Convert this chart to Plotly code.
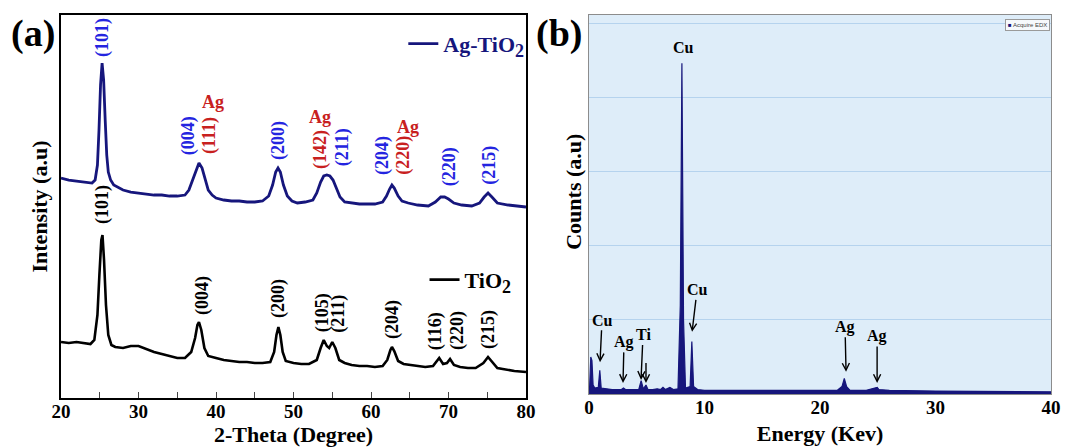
import plotly.graph_objects as go

# ---------------- Panel (a): XRD patterns (2-theta, intensity a.u.) ----------------
ag_tio2_pattern = [
    (20.0, 220), (21.0, 218), (22.0, 217), (23.0, 216), (23.5, 215), (24.0, 215), (24.4, 218),
    (24.7, 233), (24.9, 268), (25.1, 313), (25.3, 335), (25.5, 318), (25.7, 278), (25.9, 243),
    (26.1, 226), (26.4, 218), (26.8, 213), (27.5, 210), (28.0, 208), (29.0, 206), (30.0, 205),
    (31.0, 204), (32.0, 203), (33.0, 203), (34.0, 202), (35.0, 202), (36.0, 203), (36.5, 208),
    (37.0, 218), (37.4, 228), (37.8, 235), (38.2, 230), (38.6, 218), (39.0, 208), (39.5, 203),
    (40.0, 200), (41.0, 198), (42.0, 197), (43.0, 197), (44.0, 196), (45.0, 196), (46.0, 197),
    (46.8, 202), (47.3, 213), (47.7, 226), (48.0, 230), (48.3, 226), (48.7, 213), (49.2, 202),
    (49.8, 197), (50.5, 195), (51.5, 196), (52.5, 198), (53.0, 205), (53.5, 216), (53.9, 222),
    (54.3, 223), (54.7, 222), (55.1, 218), (55.5, 210), (56.0, 201), (56.6, 196), (57.5, 195),
    (58.5, 194), (59.5, 194), (60.5, 194), (61.5, 196), (62.0, 202), (62.4, 209), (62.7, 213),
    (63.0, 210), (63.5, 202), (64.0, 197), (64.8, 195), (66.0, 193), (67.4, 192), (68.3, 196),
    (69.0, 201), (69.5, 201), (70.0, 199), (70.7, 195), (71.7, 193), (73.0, 192), (74.0, 195),
    (74.6, 201), (75.1, 205), (75.6, 201), (76.3, 195), (77.7, 193), (79.0, 192), (80.0, 191),
]

tio2_pattern = [
    (20.0, 56), (21.0, 55), (22.0, 56), (23.0, 55), (23.8, 54), (24.3, 58), (24.7, 83),
    (24.95, 123), (25.2, 158), (25.35, 163), (25.55, 138), (25.8, 93), (26.1, 63), (26.5, 53),
    (27.0, 51), (28.0, 50), (29.0, 52), (30.0, 52), (31.0, 49), (32.0, 46), (33.0, 44),
    (34.0, 42), (35.0, 40), (36.0, 40), (36.8, 46), (37.3, 60), (37.6, 73), (37.8, 76),
    (38.1, 68), (38.5, 50), (39.0, 42), (40.0, 40), (41.0, 38), (42.0, 37), (43.0, 36),
    (44.0, 36), (45.0, 35), (46.0, 35), (47.0, 36), (47.5, 46), (47.8, 63), (48.05, 71),
    (48.3, 63), (48.6, 46), (49.0, 37), (50.0, 35), (51.0, 34), (52.0, 34), (53.0, 38),
    (53.5, 50), (53.9, 58), (54.3, 52), (54.6, 50), (55.0, 56), (55.4, 50), (55.9, 38),
    (56.6, 35), (57.5, 33), (58.5, 32), (59.5, 32), (60.5, 31), (61.5, 32), (62.1, 38),
    (62.5, 48), (62.7, 51), (63.0, 47), (63.5, 37), (64.2, 34), (65.0, 33), (66.0, 32),
    (67.0, 31), (68.0, 32), (68.8, 40), (69.3, 34), (69.8, 35), (70.2, 39), (70.7, 33),
    (71.5, 31), (72.5, 30), (73.5, 30), (74.5, 35), (75.1, 41), (75.6, 36), (76.3, 30),
    (77.0, 29), (77.7, 28), (78.5, 27), (80.0, 26),
]

# peak labels: (2-theta, intensity, text, colour key)
ag_tio2_labels = [
    (25.3, 360, "(101)", "blue"), (36.4, 262, "(004)", "blue"), (39.1, 262, "(111)", "red"),
    (48.0, 257, "(200)", "blue"), (53.4, 249, "(142)", "red"), (56.3, 251, "(211)", "blue"),
    (61.4, 243, "(204)", "blue"), (64.1, 243, "(220)", "red"), (70.1, 231, "(220)", "blue"),
    (75.2, 233, "(215)", "blue"),
]
ag_phase_labels = [(39.6, 296, "Ag"), (53.4, 281, "Ag"), (64.8, 271, "Ag")]
tio2_labels = [
    (25.3, 193, "(101)"), (38.2, 102, "(004)"), (48.0, 99, "(200)"), (53.7, 85, "(105)"),
    (55.7, 84, "(211)"), (62.7, 79, "(204)"), (68.3, 67, "(116)"), (71.1, 67, "(220)"),
    (75.1, 68, "(215)"),
]

# ---------------- Panel (b): EDX spectrum (keV, counts a.u.) ----------------
edx_energy = [0.0, 0.05, 0.15, 0.25, 0.35, 0.5, 0.8, 0.93, 1.05, 1.5, 2.0, 2.8, 2.98, 3.15,
              3.7, 4.3, 4.51, 4.7, 4.93, 5.1, 5.5, 5.9, 6.2, 6.4, 6.6, 7.0, 7.3, 7.7, 7.9,
              8.04, 8.18, 8.35, 8.75, 8.9, 9.05, 9.4, 10, 12, 14, 16, 18, 20, 21.5, 21.9,
              22.1, 22.3, 22.6, 24.0, 24.8, 24.95, 25.1, 26, 30, 35, 40]
edx_counts = [0.0, 0.1, 0.5, 0.45, 0.12, 0.08, 0.09, 0.32, 0.08, 0.07, 0.06, 0.06, 0.08, 0.06,
              0.06, 0.06, 0.18, 0.07, 0.12, 0.06, 0.06, 0.07, 0.06, 0.09, 0.06, 0.09, 0.06, 0.07,
              1.2, 4.47, 1.0, 0.08, 0.1, 0.71, 0.1, 0.06, 0.05, 0.05, 0.05, 0.05, 0.05, 0.05,
              0.05, 0.1, 0.21, 0.1, 0.05, 0.05, 0.08, 0.09, 0.06, 0.05, 0.04, 0.04, 0.03]

# element markers: (arrow head keV, arrow head counts, text, text dx px, text dy px)
edx_markers = [
    (0.95, 0.43, "Cu", 2, -42), (2.94, 0.15, "Ag", 1, -41), (4.50, 0.19, "Ti", 2, -45),
    (4.93, 0.15, " ", 0, -30), (8.92, 0.84, "Cu", 5, -42), (22.25, 0.30, "Ag", -1, -45),
    (24.94, 0.15, "Ag", 0, -47),
]
edx_top_label = (8.2, 4.68, "Cu")

FONT = "Liberation Serif"
NAVY = "#16167c"
BLUE = "#2424e0"
RED = "#c8201e"
LABEL_COLORS = {"blue": BLUE, "red": RED}
SUB2 = "<sub><span style='font-size:18px'>2</span></sub>"

fig = go.Figure()

fig.add_trace(go.Scatter(
    x=[p[0] for p in ag_tio2_pattern], y=[p[1] for p in ag_tio2_pattern],
    mode="lines", line=dict(color=NAVY, width=2.8), name="Ag-TiO" + SUB2,
    xaxis="x", yaxis="y", legend="legend"))
fig.add_trace(go.Scatter(
    x=[p[0] for p in tio2_pattern], y=[p[1] for p in tio2_pattern],
    mode="lines", line=dict(color="black", width=2.6), name="TiO" + SUB2,
    xaxis="x", yaxis="y", legend="legend2"))
fig.add_trace(go.Scatter(
    x=edx_energy, y=edx_counts, mode="lines", fill="tozeroy", fillcolor=NAVY,
    line=dict(color=NAVY, width=1.2), name="Acquire EDX", showlegend=False,
    xaxis="x2", yaxis="y2"))

ann = []
for x, y, t, c in ag_tio2_labels:
    ann.append(dict(x=x, y=y, xref="x", yref="y", text=t, showarrow=False, textangle=-90,
                    font=dict(family=FONT, size=18, color=LABEL_COLORS[c], weight="bold")))
for x, y, t in ag_phase_labels:
    ann.append(dict(x=x, y=y, xref="x", yref="y", text=t, showarrow=False,
                    font=dict(family=FONT, size=18, color=RED, weight="bold")))
for x, y, t in tio2_labels:
    ann.append(dict(x=x, y=y, xref="x", yref="y", text=t, showarrow=False, textangle=-90,
                    font=dict(family=FONT, size=18, color="black", weight="bold")))
for x, y, t, dx, dy in edx_markers:
    ann.append(dict(x=x, y=y, xref="x2", yref="y2", text=t, showarrow=True, ax=dx, ay=dy,
                    arrowhead=5, arrowsize=1.0, arrowwidth=1.4, arrowcolor="black", standoff=0,
                    font=dict(family=FONT, size=16, color="black", weight="bold")))
ann.append(dict(x=edx_top_label[0], y=edx_top_label[1], xref="x2", yref="y2",
                text=edx_top_label[2], showarrow=False,
                font=dict(family=FONT, size=16, color="black", weight="bold")))
ann.append(dict(x=0.031, y=0.924, xref="paper", yref="paper", xanchor="center",
                yanchor="middle", text="(a)", showarrow=False,
                font=dict(family=FONT, size=38, color="black", weight="bold")))
ann.append(dict(x=0.525, y=0.924, xref="paper", yref="paper", xanchor="center",
                yanchor="middle", text="(b)", showarrow=False,
                font=dict(family=FONT, size=38, color="black", weight="bold")))
# y title of the EDX panel (sits a little above the axis centre in the reference)
ann.append(dict(x=0.539, y=0.571, xref="paper", yref="paper", xanchor="center",
                yanchor="middle", text="Counts (a.u)", showarrow=False, textangle=-90,
                font=dict(family=FONT, size=22, color="black", weight="bold")))
# small instrument legend box of the EDX panel
ann.append(dict(x=0.986, y=0.958, xref="paper", yref="paper", xanchor="right", yanchor="top",
                text="<span style='color:%s'>■</span> Acquire EDX" % NAVY, showarrow=False,
                bgcolor="#f6f9fc", bordercolor="#9a9a9a", borderwidth=1, borderpad=2,
                font=dict(family="Liberation Sans", size=6, color="#444")))

shapes = [dict(type="rect", xref="x2 domain", yref="y2 domain", x0=0, x1=1, y0=0, y1=1,
               fillcolor="#deedf9", line=dict(width=0), layer="below")]

tickfont = dict(family=FONT, size=19, color="black", weight="bold")
titlefont = dict(family=FONT, size=22, color="black", weight="bold")

fig.update_layout(
    width=1065, height=447, margin=dict(l=0, r=0, t=0, b=0, autoexpand=False),
    paper_bgcolor="white", plot_bgcolor="rgba(0,0,0,0)",
    font=dict(family=FONT, color="black"),
    annotations=ann, shapes=shapes,
    xaxis=dict(domain=[0.0573, 0.4939], range=[20, 80], dtick=10, ticks="inside", ticklen=6,
               tickwidth=1.3, minor=dict(ticks="inside", ticklen=6, dtick=5, tickwidth=1.3),
               showline=True, mirror=True, linecolor="black", linewidth=1.5, showgrid=False,
               zeroline=False, tickfont=tickfont, automargin=False, ticklabelstandoff=-5,
               title=dict(text="2-Theta (Degree)", font=titlefont, standoff=9), anchor="y"),
    yaxis=dict(domain=[0.1096, 0.9664], range=[0, 383], showticklabels=False, ticks="",
               showline=True, mirror=True, linecolor="black", linewidth=1.5, showgrid=False,
               zeroline=False, automargin=False,
               title=dict(text="Intensity (a.u)", font=titlefont, standoff=6), anchor="x"),
    xaxis2=dict(domain=[0.5531, 0.9869], range=[0, 40], dtick=10, ticks="", showline=True,
                mirror=True, linecolor="#8c8c8c", linewidth=1.3, showgrid=False, zeroline=False,
                tickfont=tickfont, anchor="y2", automargin=False, ticklabelstandoff=-4,
                title=dict(text="Energy (Kev)", font=titlefont, standoff=8)),
    yaxis2=dict(domain=[0.1186, 0.9664], range=[0, 5.12], dtick=1, showticklabels=False,
                ticks="", showline=True, mirror=True, linecolor="#8c8c8c", linewidth=1.3,
                showgrid=True, gridcolor="#b5d3ee", gridwidth=1, zeroline=False, anchor="x2",
                automargin=False),
    legend=dict(x=0.497, y=0.902, xanchor="right", yanchor="middle", bgcolor="rgba(0,0,0,0)",
                font=dict(family=FONT, size=22, color=NAVY, weight="bold")),
    legend2=dict(x=0.485, y=0.374, xanchor="right", yanchor="middle", bgcolor="rgba(0,0,0,0)",
                 font=dict(family=FONT, size=22, color="black", weight="bold")),
    showlegend=True,
)

fig.write_html("out.html", config={"displayModeBar": False},
               post_script="document.body.style.margin='0px';")
